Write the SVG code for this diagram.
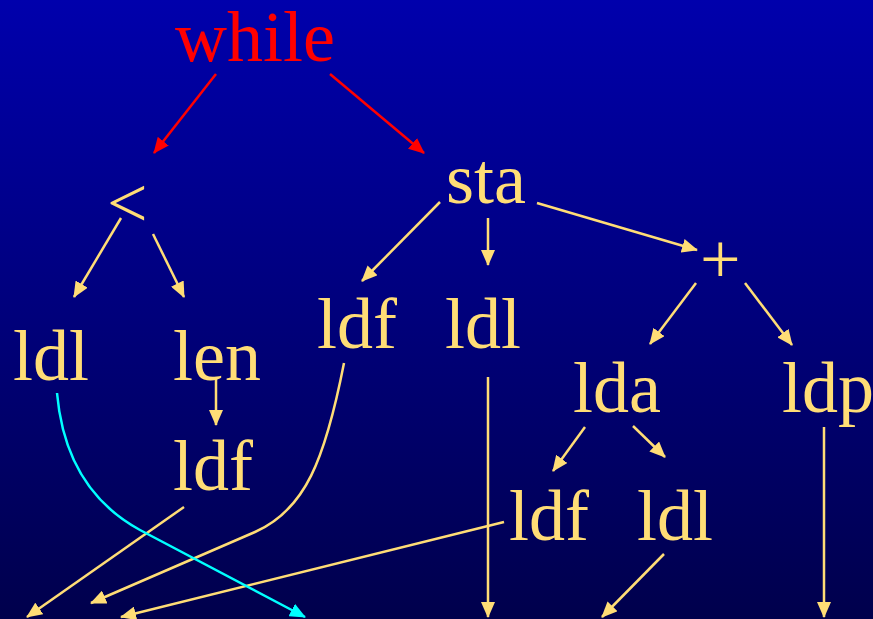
<svg xmlns="http://www.w3.org/2000/svg" width="873" height="619" viewBox="0 0 873 619">
<defs>
<linearGradient id="bg" x1="0" y1="0" x2="0" y2="1">
<stop offset="0" stop-color="#0000AC"/>
<stop offset="1" stop-color="#00004C"/>
</linearGradient>
<marker id="ay" markerUnits="userSpaceOnUse" markerWidth="16" markerHeight="14" viewBox="0 0 16 14" refX="15" refY="7" orient="auto"><path d="M0,0 L16,7 L0,14 Z" fill="#FFDD76"/></marker>
<marker id="ar" markerUnits="userSpaceOnUse" markerWidth="16" markerHeight="14" viewBox="0 0 16 14" refX="15" refY="7" orient="auto"><path d="M0,0 L16,7 L0,14 Z" fill="#FF0000"/></marker>
<marker id="ac" markerUnits="userSpaceOnUse" markerWidth="16" markerHeight="14" viewBox="0 0 16 14" refX="15" refY="7" orient="auto"><path d="M0,0 L16,7 L0,14 Z" fill="#00FFFF"/></marker>
</defs>
<style>
text{font-family:"Liberation Serif","Times New Roman",serif;font-size:72px;fill:#FFDD76}
.red{fill:#FF0000}
.y{stroke:#FFDD76;stroke-width:2.5;fill:none;marker-end:url(#ay)}
.r{stroke:#FF0000;stroke-width:2.5;fill:none;marker-end:url(#ar)}
.c{stroke:#00FFFF;stroke-width:2.5;fill:none;marker-end:url(#ac)}
</style>
<rect x="0" y="0" width="873" height="619" fill="url(#bg)"/>
<g id="n-while"><text class="red" x="175" y="61">while</text></g>
<g id="n-lt"><text x="107" y="227">&lt;</text></g>
<g id="n-sta"><text x="446" y="203">sta</text></g>
<g id="n-plus"><text x="700" y="283">+</text></g>
<g id="n-ldl1"><text x="13" y="380">ldl</text></g>
<g id="n-len"><text x="173" y="380">len</text></g>
<g id="n-ldf1"><text x="173" y="490">ldf</text></g>
<g id="n-ldf2"><text x="317" y="348">ldf</text></g>
<g id="n-ldl2"><text x="445" y="348">ldl</text></g>
<g id="n-lda"><text x="573" y="412">lda</text></g>
<g id="n-ldp"><text x="782" y="412">ldp</text></g>
<g id="n-ldf3"><text x="509" y="540">ldf</text></g>
<g id="n-ldl3"><text x="637" y="540">ldl</text></g>
<g id="connectors">
<line class="r" x1="216" y1="74" x2="154" y2="153"/>
<line class="r" x1="330" y1="74" x2="424" y2="153"/>
<line class="y" x1="121" y1="218" x2="74" y2="297"/>
<line class="y" x1="153" y1="234" x2="184" y2="297"/>
<line class="y" x1="440" y1="202" x2="362" y2="281"/>
<line class="y" x1="488" y1="218" x2="488" y2="265"/>
<line class="y" x1="537" y1="203" x2="697" y2="250"/>
<line class="y" x1="696" y1="283" x2="650" y2="344"/>
<line class="y" x1="745" y1="283" x2="792" y2="345"/>
<line class="y" x1="216" y1="378" x2="216" y2="425"/>
<line class="y" x1="585" y1="427" x2="553" y2="471"/>
<line class="y" x1="633" y1="426" x2="665" y2="457"/>
<line class="y" x1="824" y1="427" x2="824" y2="617"/>
<line class="y" x1="488" y1="377" x2="488" y2="617"/>
<line class="y" x1="664" y1="554" x2="602" y2="617"/>
<line class="y" x1="504" y1="522" x2="121" y2="617"/>
<line class="y" x1="184" y1="507" x2="27" y2="617"/>
<path class="y" d="M344,363 C325,460 305,510 255,532 L91,603"/>
<path class="c" d="M57,393 C62,450 85,500 140,530 L305,617"/>
</g>
</svg>
